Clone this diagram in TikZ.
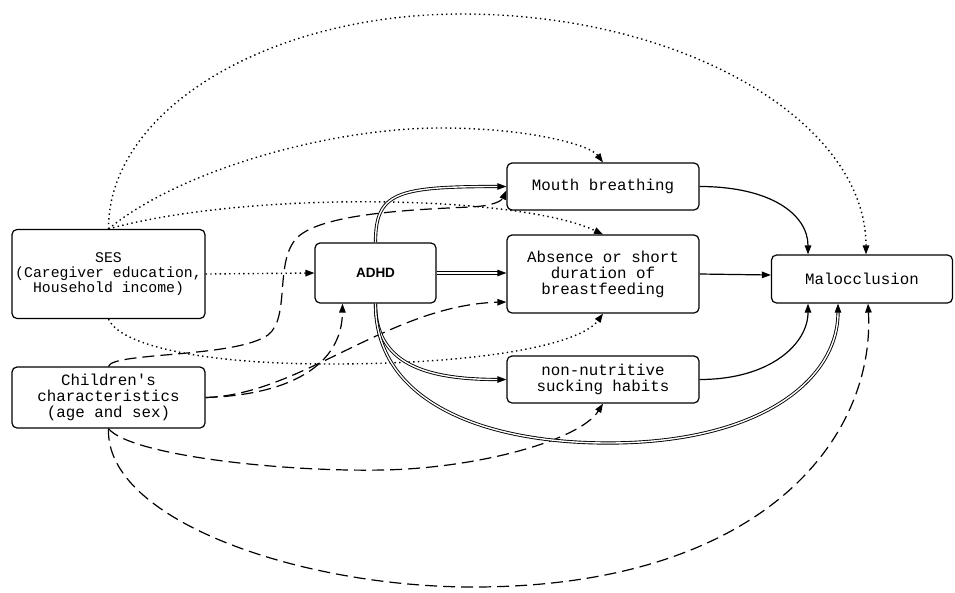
\documentclass[tikz,border=0pt]{standalone}
\usepackage{fontspec}
\setmainfont{Liberation Mono}
\newfontfamily\boldsans{Liberation Sans}
\usetikzlibrary{arrows.meta}

\tikzset{
  >={Triangle[length=9pt,width=6.5pt]},
  box/.style={draw, rounded corners=5pt, line width=1.2pt, align=center,
    inner sep=0pt, font=\fontsize{15.8}{16}\selectfont},
  sesline/.style={->, line width=1.4pt, dash pattern=on 1.4pt off 3.3pt},
  kidline/.style={->, line width=1.2pt, dash pattern=on 12pt off 6pt},
  adhdline/.style={->, line width=0.9pt, double, double distance=1.4pt},
  medline/.style={->, line width=1.2pt}
}

\begin{document}
\begin{tikzpicture}[x=1pt,y=1pt]
  \useasboundingbox (0,0) rectangle (955,-592);

  % boxes
  \node[box, minimum width=193pt, minimum height=89pt, font=\fontsize{14.8}{15}\selectfont]
       (ses) at (108.5,-274) {SES\\(Caregiver education,\\Household income)};
  \node[box, minimum width=193pt, minimum height=61pt]
       (kids) at (108.5,-397.5) {Children\textquotesingle s\\characteristics\\(age and sex)};
  \node[box, minimum width=121pt, minimum height=60pt, font=\boldsans\bfseries\fontsize{13.5}{14}\selectfont]
       (adhd) at (375.5,-273) {ADHD};
  \node[box, minimum width=192pt, minimum height=47pt]
       (mouth) at (603,-186.5) {Mouth breathing};
  \node[box, minimum width=192pt, minimum height=78pt]
       (breast) at (603,-274) {Absence or short\\duration of\\breastfeeding};
  \node[box, minimum width=192pt, minimum height=47pt]
       (nns) at (603,-379.5) {non-nutritive\\sucking habits};
  \node[box, minimum width=181pt, minimum height=48pt]
       (maloc) at (862,-279) {Malocclusion};

  \coordinate (maltop) at ([xshift=-54pt]maloc.north);
  \coordinate (malbot) at ([xshift=-54pt]maloc.south);

  % SES (dotted)
  \draw[sesline] (ses.north) .. controls (108,-111) and (267,-14) .. (462,-14)
                 .. controls (684,-14) and (866,-122) .. ([xshift=4pt]maloc.north);
  \draw[sesline] (ses.north) .. controls (180,-170) and (330,-128) .. (440,-128)
                 .. controls (530,-128) and (590,-145) .. (mouth.north);
  \draw[sesline] (ses.north) .. controls (250,-190) and (520,-195) .. (breast.north);
  \draw[sesline] (ses.east) -- (adhd.west);
  \draw[sesline] (ses.south) .. controls (120,-345) and (200,-364) .. (330,-364)
                 .. controls (480,-364) and (580,-345) .. (breast.south);

  % children (dashed)
  \draw[kidline] (kids.north) .. controls (112,-352) and (235,-358) .. (268,-335)
                 .. controls (290,-318) and (275,-265) .. (295,-240)
                 .. controls (315,-215) and (400,-210) .. (470,-207)
                 .. controls (495,-206) and (502,-200) .. ([yshift=-4pt]mouth.west);
  \draw[kidline] (kids.east) .. controls (290,-395) and (342,-365) .. ([xshift=-33pt]adhd.south);
  \draw[kidline] (kids.east) .. controls (300,-395) and (390,-305) .. ([yshift=-28pt]breast.west);
  \draw[kidline] (kids.south) .. controls (130,-455) and (280,-472) .. (383,-470)
                 .. controls (480,-468) and (580,-440) .. (nns.south);
  \draw[kidline] (kids.south) .. controls (105,-520) and (300,-587) .. (473,-587)
                 .. controls (760,-587) and (875,-440) .. ([xshift=6pt]maloc.south);

  % ADHD (double)
  \draw[adhdline] (adhd.east) -- (breast.west |- adhd.east);
  \draw[adhdline] (adhd.north) .. controls +(0,50) and +(-110,0) .. (mouth.west);
  \draw[adhdline] (adhd.south) .. controls +(0,-57) and +(-87,0) .. (nns.west);
  \draw[adhdline] (adhd.south) .. controls (375,-400) and (480,-443) .. (608,-443)
                  .. controls (760,-443) and (838,-380) .. ([xshift=-24pt]maloc.south);

  % mediators (solid)
  \draw[medline] (mouth.east) .. controls +(71,0) and +(0,40) .. (maltop);
  \draw[medline] (breast.east) -- ([yshift=4pt]maloc.west);
  \draw[medline] (nns.east) .. controls +(71,0) and +(0,-40) .. (malbot);
\end{tikzpicture}
\end{document}
